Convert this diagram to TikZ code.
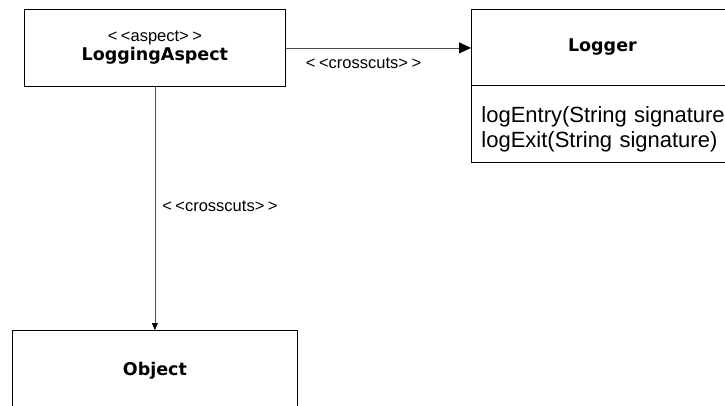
\documentclass[tikz,border=0pt]{standalone}
\usepackage{fontspec}
\setmainfont{Liberation Sans}[Ligatures=NoCommon]
\newfontfamily\clsfont{DejaVu Sans}
\usetikzlibrary{arrows.meta}
\newcommand{\stl}{{<}\kern3.5pt{<}}
\newcommand{\str}{{>}\kern3.5pt{>}}
\begin{document}
\begin{tikzpicture}[x=1pt,y=-1pt,
  box/.style={draw=black, line width=0.8pt, inner sep=0pt, anchor=north west},
  clsname/.style={font=\clsfont\bfseries\fontsize{17.5}{21}\selectfont},
  lbl/.style={font=\fontsize{16.5}{19}\selectfont, inner sep=0pt},
  conn/.style={draw=black!70, line width=0.8pt}
]
\useasboundingbox (0,0) rectangle (725,405);
\node[box, minimum width=261pt, minimum height=77pt, align=center] (la) at (24,9)
  {{\fontsize{16.5}{21}\selectfont \stl aspect\str}\\[1pt]{\clsfont\bfseries\fontsize{17.5}{21}\selectfont LoggingAspect}};
\node[box, clsname, minimum width=262pt, minimum height=76pt] (lg) at (471,9) {Logger};
\node[box, minimum height=77pt, inner xsep=10pt, text width=270pt, align=left,
  font=\fontsize{22}{25}\selectfont] (lgb) at (471,85)
  {\rule{0pt}{26pt}logEntry(String signature)\\logExit(String signature)};
\node[box, clsname, minimum width=285pt, minimum height=80pt] (obj) at (12,330) {Object};
\draw[conn, -{Triangle[length=12pt,width=11pt,color=black]}] (la.east) -- (la.east -| lg.west)
  node[lbl, pos=0.42, below=10pt] (l1) {\stl crosscuts\str};
\draw[conn, -{Triangle[length=7pt,width=6pt,color=black]}] (la.south) -- (obj.north)
  node[lbl, pos=0.49, right=7pt] (l2) {\stl crosscuts\str};
\end{tikzpicture}
\end{document}
